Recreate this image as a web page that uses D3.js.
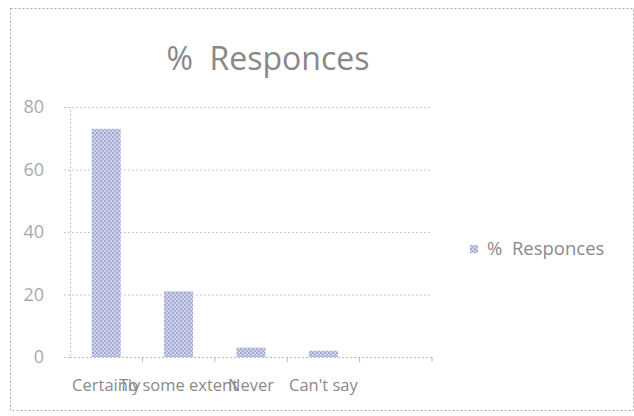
<!DOCTYPE html>
<html><head><meta charset="utf-8">
<script src="https://cdn.jsdelivr.net/npm/d3@7"></script>
<style>
body{margin:0;background:#fff;}
text{font-family:"Open Sans","DejaVu Sans",sans-serif;white-space:pre;}
</style></head>
<body><svg id="c" width="634" height="416"></svg>
<script>
const categories = ["Certainly","To some extent","Never","Can't say",""];
const values = [73,21,3,2,null];
const yTicks = [0,20,40,60,80];
const seriesName = "%  Responces";
const title = "%  Responces";

const svg = d3.select("#c");
const W=634,H=416;
const m={left:70,right:202,top:107,bottom:59};
const x = d3.scaleBand().domain(categories).range([m.left,W-m.right]).paddingInner(0.6).paddingOuter(0.3);
const xb = d3.scaleBand().domain(categories).range([m.left,W-m.right]);
const y = d3.scaleLinear().domain([0,80]).range([H-m.bottom,m.top]);

// pattern
const defs=svg.append("defs");
const p=defs.append("pattern").attr("id","pat").attr("patternUnits","userSpaceOnUse").attr("width",4).attr("height",4);
p.append("rect").attr("width",4).attr("height",4).attr("fill","#cdd1ea");
p.append("rect").attr("x",0).attr("y",0).attr("width",2).attr("height",2).attr("fill","#a2a9d2");
p.append("rect").attr("x",2).attr("y",2).attr("width",2).attr("height",2).attr("fill","#adb3d8");

// border
svg.append("rect").attr("x",10.5).attr("y",8.5).attr("width",623).attr("height",402)
  .attr("fill","none").attr("stroke","#aaa").attr("stroke-dasharray","2,2");

// title
svg.append("text").attr("x",268).attr("y",70).attr("text-anchor","middle")
  .attr("font-size",32).attr("fill","#888").attr("font-weight",500).text(title);

// grid
svg.append("g").selectAll("line").data(yTicks.filter(d=>d>0)).join("line")
  .attr("x1",64).attr("x2",W-m.right).attr("y1",d=>y(d)+0.5).attr("y2",d=>y(d)+0.5)
  .attr("stroke","#c8c8c8").attr("stroke-dasharray","2,2");

// y axis
const ya=svg.append("g").attr("transform",`translate(${m.left},0)`).call(d3.axisLeft(y).tickValues(yTicks).tickSize(6).tickPadding(20));
ya.select(".domain").attr("stroke","#c8c8c8").attr("stroke-dasharray","2,2");
ya.selectAll(".tick line").attr("stroke","none");
ya.selectAll("text").attr("font-size",18).attr("fill","#aaa").attr("font-family","'Open Sans',sans-serif");

// bars
svg.append("g").selectAll("rect").data(categories.map((c,i)=>({c,v:values[i]})).filter(d=>d.v!=null)).join("rect")
  .attr("x",d=>x(d.c)).attr("width",x.bandwidth())
  .attr("y",d=>y(d.v)).attr("height",d=>y(0)-y(d.v)).attr("fill","url(#pat)");

// x axis
const xa=svg.append("g").attr("transform",`translate(0,${y(0)})`).call(d3.axisBottom(xb).tickSize(5).tickPadding(12).tickFormat(d=>d));
xa.select(".domain").attr("stroke","#bbb").attr("stroke-dasharray","2,2").attr("d",`M${m.left},0.5H${W-m.right}`);
xa.selectAll(".tick").attr("transform",(d,i)=>`translate(${xb(d)+xb.bandwidth()},0)`);
xa.selectAll(".tick line").attr("stroke","#bbb");
xa.selectAll(".tick text").remove();
svg.append("g").selectAll("text").data(categories.filter(c=>c)).join("text")
  .attr("x",d=>xb(d)+xb.bandwidth()/2).attr("y",y(0)+34).attr("text-anchor","middle")
  .attr("font-size",16.5).attr("fill","#8a8a8a").text(d=>d);

// legend
const lg=svg.append("g").attr("transform","translate(470,244)");
lg.append("rect").attr("y",1).attr("width",8).attr("height",8).attr("fill","url(#pat)");
lg.append("text").attr("x",17).attr("y",11).attr("font-size",18.5).attr("fill","#8a8a8a").text(seriesName);
</script></body></html>
